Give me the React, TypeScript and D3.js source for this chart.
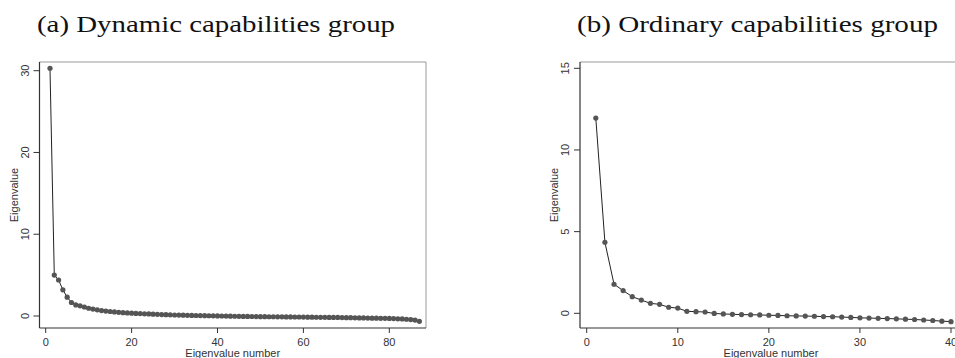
import React from 'react';
import * as d3 from 'd3';

// Eigenvalues
const dynamicEigen = [
  30.3, 5.0, 4.4, 3.2, 2.3, 1.65, 1.35, 1.25, 1.1, 0.95,
  0.85, 0.75, 0.66, 0.6, 0.55, 0.5, 0.45, 0.41, 0.38, 0.35,
  0.32, 0.3, 0.27, 0.25, 0.22, 0.2, 0.18, 0.16, 0.14, 0.12,
  0.11, 0.1, 0.08, 0.07, 0.06, 0.05, 0.04, 0.03, 0.02, 0.01,
  0.0, -0.01, -0.02, -0.03, -0.04, -0.05, -0.05, -0.06, -0.07, -0.08,
  -0.08, -0.09, -0.09, -0.1, -0.1, -0.11, -0.11, -0.12, -0.12, -0.13,
  -0.14, -0.14, -0.15, -0.16, -0.16, -0.17, -0.18, -0.18, -0.19, -0.2,
  -0.21, -0.22, -0.23, -0.24, -0.25, -0.26, -0.27, -0.28, -0.29, -0.3,
  -0.32, -0.34, -0.36, -0.4, -0.44, -0.5, -0.65,
];

const ordinaryEigen = [
  11.95, 4.35, 1.78, 1.39, 1.02, 0.81, 0.61, 0.55, 0.37, 0.32,
  0.12, 0.1, 0.08, -0.01, -0.04, -0.06, -0.08, -0.09, -0.1, -0.12,
  -0.13, -0.15, -0.16, -0.17, -0.18, -0.2, -0.21, -0.23, -0.25, -0.28,
  -0.29, -0.31, -0.32, -0.34, -0.36, -0.38, -0.41, -0.44, -0.48, -0.51,
];

const dynamicXTicks = [0, 20, 40, 60, 80];
const dynamicYTicks = [0, 10, 20, 30];
const ordinaryXTicks = [0, 10, 20, 30, 40];
const ordinaryYTicks = [0, 5, 10, 15];

const titles = ['(a) Dynamic capabilities group', '(b) Ordinary capabilities group'];

const sans = "'Liberation Sans', Arial, sans-serif";

type PanelProps = {
  values: number[];
  xTicks: number[];
  yTicks: number[];
  xScale: d3.ScaleLinear<number, number>;
  yScale: d3.ScaleLinear<number, number>;
  frame: { left: number; right: number; top: number; bottom: number };
};

const Panel = ({ values, xTicks, yTicks, xScale, yScale, frame }: PanelProps) => {
  const pts = values.map((v, i) => [i + 1, v] as [number, number]);
  const line = d3.line<[number, number]>()
    .x(d => xScale(d[0]))
    .y(d => yScale(d[1]));
  const midX = (frame.left + frame.right) / 2;
  const midY = (frame.top + frame.bottom) / 2;

  return (
    <g>
      {/* plot region outline */}
      <line x1={frame.left} x2={frame.right} y1={frame.top} y2={frame.top} stroke="#999" strokeWidth={1} />
      <line x1={frame.right} x2={frame.right} y1={frame.top} y2={frame.bottom} stroke="#999" strokeWidth={1} />
      {/* axes */}
      <line x1={frame.left} x2={frame.left} y1={frame.top} y2={frame.bottom} stroke="#333" strokeWidth={1.2} />
      <line x1={frame.left} x2={frame.right} y1={frame.bottom} y2={frame.bottom} stroke="#333" strokeWidth={1.2} />

      {yTicks.map(t => (
        <g key={'y' + t}>
          <line x1={frame.left - 6} x2={frame.left} y1={yScale(t)} y2={yScale(t)} stroke="#333" />
          <text
            transform={`translate(${frame.left - 11},${yScale(t)}) rotate(-90)`}
            textAnchor="middle"
            fontFamily={sans}
            fontSize={11}
            fill="#333"
          >{t}</text>
        </g>
      ))}
      {xTicks.map(t => (
        <g key={'x' + t}>
          <line x1={xScale(t)} x2={xScale(t)} y1={frame.bottom} y2={frame.bottom + 5} stroke="#333" />
          <text x={xScale(t)} y={frame.bottom + 18} textAnchor="middle" fontFamily={sans} fontSize={11} fill="#333">{t}</text>
        </g>
      ))}

      <text
        transform={`translate(${frame.left - 22},${midY}) rotate(-90)`}
        textAnchor="middle"
        fontFamily={sans}
        fontSize={11}
        fill="#333"
      >Eigenvalue</text>
      <text x={midX} y={frame.bottom + 29} textAnchor="middle" fontFamily={sans} fontSize={11} fill="#333">Eigenvalue number</text>

      <path d={line(pts) ?? ''} fill="none" stroke="#222" strokeWidth={1} />
      {pts.map(d => (
        <circle key={d[0]} cx={xScale(d[0])} cy={yScale(d[1])} r={2.6} fill="#555" />
      ))}
    </g>
  );
};

export default function App() {
  const width = 955;
  const height = 358;

  const frameA = { left: 39.5, right: 426, top: 62, bottom: 328 };
  const xA = d3.scaleLinear().domain([0, 80]).range([45.7, 389.3]);
  const yA = d3.scaleLinear().domain([0, 30]).range([316, 70.7]);

  const frameB = { left: 580, right: 962, top: 62, bottom: 328 };
  const xB = d3.scaleLinear().domain([0, 40]).range([586.7, 951]);
  const yB = d3.scaleLinear().domain([0, 15]).range([313.3, 68.3]);

  return (
    <svg width={width} height={height} style={{ position: 'absolute', left: 0, top: 0, background: '#fff' }}>
      <rect width={width} height={height} fill="#fff" />
      <text x={37} y={31.5} fontFamily="'Liberation Serif', 'Times New Roman', serif" fontSize={24}
        textLength={358} lengthAdjust="spacingAndGlyphs" fill="#111">{titles[0]}</text>
      <text x={577} y={31.5} fontFamily="'Liberation Serif', 'Times New Roman', serif" fontSize={24}
        textLength={361} lengthAdjust="spacingAndGlyphs" fill="#111">{titles[1]}</text>
      <Panel values={dynamicEigen} xTicks={dynamicXTicks} yTicks={dynamicYTicks} xScale={xA} yScale={yA} frame={frameA} />
      <Panel values={ordinaryEigen} xTicks={ordinaryXTicks} yTicks={ordinaryYTicks} xScale={xB} yScale={yB} frame={frameB} />
    </svg>
  );
}
